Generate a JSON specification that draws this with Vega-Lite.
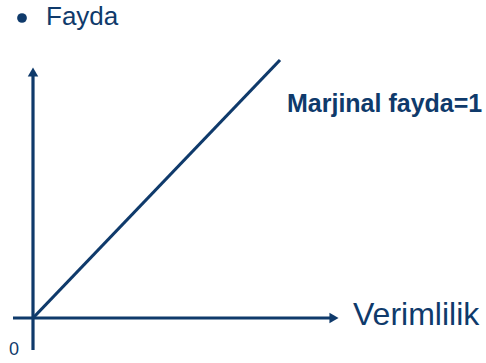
{
  "$schema": "https://vega.github.io/schema/vega-lite/v6.json",
  "width": 486,
  "height": 363,
  "autosize": {"type": "fit", "contains": "padding"},
  "padding": 0,
  "background": "white",
  "config": {"view": {"stroke": null}},
  "layer": [
    {
      "data": {"values": [
        {"name": "yaxis", "x": 0, "y": -32, "x2": 0, "y2": 246},
        {"name": "xaxis", "x": -20, "y": 0, "x2": 300, "y2": 0},
        {"name": "fayda", "x": 0, "y": 0, "x2": 247, "y2": 258}
      ]},
      "mark": {"type": "rule", "color": "#0f3a6b", "strokeWidth": 3.2},
      "encoding": {
        "x": {"field": "x", "type": "quantitative", "scale": {"domain": [-33, 453], "zero": false, "nice": false}, "axis": null},
        "y": {"field": "y", "type": "quantitative", "scale": {"domain": [-45, 318], "zero": false, "nice": false}, "axis": null},
        "x2": {"field": "x2"},
        "y2": {"field": "y2"}
      }
    },
    {
      "data": {"values": [
        {"x": 0, "y": 246, "shape": "triangle-up"},
        {"x": 301, "y": 0, "shape": "triangle-right"}
      ]},
      "mark": {"type": "point", "filled": true, "color": "#0f3a6b", "opacity": 1, "size": 110},
      "encoding": {
        "x": {"field": "x", "type": "quantitative"},
        "y": {"field": "y", "type": "quantitative"},
        "shape": {"field": "shape", "type": "nominal", "scale": null, "legend": null}
      }
    },
    {
      "data": {"values": [{"x": -11, "y": 300}]},
      "mark": {"type": "point", "filled": true, "shape": "circle", "color": "#0f3a6b", "opacity": 1, "size": 95},
      "encoding": {
        "x": {"field": "x", "type": "quantitative"},
        "y": {"field": "y", "type": "quantitative"}
      }
    },
    {
      "data": {"values": [
        {"label": "Fayda", "x": 13, "y": 293, "size": 26},
        {"label": "Verimlilik", "x": 320, "y": -7, "size": 32},
        {"label": "0", "x": -24, "y": -37, "size": 18}
      ]},
      "mark": {"type": "text", "align": "left", "baseline": "alphabetic", "font": "Liberation Sans", "color": "#0f3a6b"},
      "encoding": {
        "x": {"field": "x", "type": "quantitative"},
        "y": {"field": "y", "type": "quantitative"},
        "text": {"field": "label"},
        "size": {"field": "size", "type": "quantitative", "scale": null, "legend": null}
      }
    },
    {
      "data": {"values": [{"label": "Marjinal fayda=1", "x": 254, "y": 206}]},
      "mark": {"type": "text", "align": "left", "baseline": "alphabetic", "font": "Liberation Sans", "fontSize": 25, "fontWeight": "bold", "color": "#0f3a6b"},
      "encoding": {
        "x": {"field": "x", "type": "quantitative"},
        "y": {"field": "y", "type": "quantitative"},
        "text": {"field": "label"}
      }
    }
  ]
}
